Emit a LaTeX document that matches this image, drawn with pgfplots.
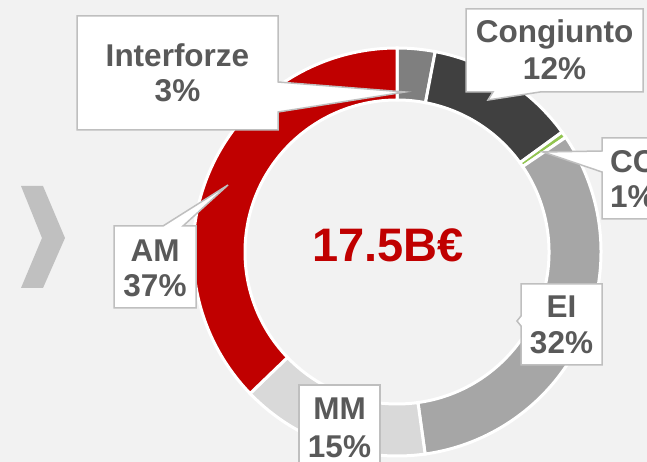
\documentclass[border=0pt]{standalone}
\usepackage{pgfplots}
\usepackage{pgfplotstable}
\pgfplotsset{compat=1.18}
\usepackage{fontspec}
\setmainfont{Liberation Sans}
\definecolor{bg}{HTML}{F2F2F2}
\definecolor{txt}{HTML}{595959}
\definecolor{boxline}{HTML}{BFBFBF}
\definecolor{chev}{HTML}{C0C0C0}
\definecolor{seg0}{HTML}{7F7F7F}
\definecolor{seg1}{HTML}{404040}
\definecolor{seg2}{HTML}{92C550}
\definecolor{seg3}{HTML}{A6A6A6}
\definecolor{seg4}{HTML}{D9D9D9}
\definecolor{seg5}{HTML}{C00000}
\definecolor{tot}{HTML}{C00000}

% share = drawn share of the ring, pct = printed label
\pgfplotstableread{
label share pct
Interforze 3 3
Congiunto 12 12
CC 0.5 1
EI 32.3 32
MM 15 15
AM 37.2 37
}\sharetable

\newcommand\lbl{\fontsize{31.5bp}{36bp}\selectfont\bfseries\color{txt}}

\begin{document}
\begin{tikzpicture}
\path[use as bounding box] (0,0) rectangle (647bp,462bp);
\clip (0,0) rectangle (647bp,462bp);
\begin{axis}[at={(0,0)},anchor=south west,scale only axis,
  width=647bp,height=462bp,xmin=0,xmax=647,ymin=-462,ymax=0,
  hide axis,clip=false]
\fill[bg] (axis cs:0,-462) rectangle (axis cs:647,0);
% chevron
\fill[chev] (axis cs:21,-186) -- (axis cs:43,-186) -- (axis cs:65,-238)
  -- (axis cs:43,-288) -- (axis cs:21,-288) -- (axis cs:42,-238) -- cycle;
% donut ring
\def\cum{0}
\pgfplotsforeachungrouped \i in {0,...,5}{%
  \pgfplotstablegetelem{\i}{share}\of\sharetable
  \let\segval\pgfplotsretval
  \pgfmathsetmacro\aone{90-3.6*\cum}%
  \pgfmathsetmacro\cum{\cum+\segval}%
  \pgfmathsetmacro\atwo{90-3.6*\cum}%
  \pgfmathsetmacro\xa{397+204*cos(\aone)}%
  \pgfmathsetmacro\ya{-252+204*sin(\aone)}%
  \pgfmathsetmacro\xb{397+152*cos(\atwo)}%
  \pgfmathsetmacro\yb{-252+152*sin(\atwo)}%
  \edef\temp{\noexpand\filldraw[fill=seg\i,draw=white,line width=3bp]
    (axis cs:\xa,\ya) arc[start angle=\aone,end angle=\atwo,radius=204bp]
    -- (axis cs:\xb,\yb) arc[start angle=\atwo,end angle=\aone,radius=152bp] -- cycle;}%
  \temp
}
% callouts
\filldraw[fill=white,draw=boxline,line width=1.5bp]
  (axis cs:77,-16) -- (axis cs:278,-16) -- (axis cs:278,-82) -- (axis cs:405,-92)
  -- (axis cs:278,-112) -- (axis cs:278,-130) -- (axis cs:77,-130) -- cycle;
\filldraw[fill=white,draw=boxline,line width=1.5bp]
  (axis cs:466,-9) -- (axis cs:643,-9) -- (axis cs:643,-92) -- (axis cs:540,-92)
  -- (axis cs:488,-100) -- (axis cs:493,-92) -- (axis cs:466,-92) -- cycle;
\filldraw[fill=white,draw=boxline,line width=1.5bp]
  (axis cs:602,-138) -- (axis cs:670,-138) -- (axis cs:670,-219) -- (axis cs:602,-219)
  -- (axis cs:602,-172) -- (axis cs:543,-152) -- (axis cs:602,-151) -- cycle;
\filldraw[fill=white,draw=boxline,line width=1.5bp]
  (axis cs:521,-284) -- (axis cs:602,-284) -- (axis cs:602,-365) -- (axis cs:521,-365)
  -- (axis cs:521,-326) -- (axis cs:517,-321) -- (axis cs:521,-316) -- cycle;
\filldraw[fill=white,draw=boxline,line width=1.5bp]
  (axis cs:299,-385) -- (axis cs:380,-385) -- (axis cs:380,-475) -- (axis cs:299,-475) -- cycle;
\filldraw[fill=white,draw=boxline,line width=1.5bp]
  (axis cs:114,-226) -- (axis cs:163,-226) -- (axis cs:228,-185) -- (axis cs:183,-226)
  -- (axis cs:196,-226) -- (axis cs:196,-308) -- (axis cs:114,-308) -- cycle;
% label texts
\node[anchor=base,inner sep=0pt,font=\lbl] at (axis cs:177.5,-67) {Interforze};
\node[anchor=base,inner sep=0pt,font=\lbl] at (axis cs:177.5,-102) {3\%};
\node[anchor=base,inner sep=0pt,font=\lbl] at (axis cs:554.5,-43) {Congiunto};
\node[anchor=base,inner sep=0pt,font=\lbl] at (axis cs:554.5,-80) {12\%};
\node[anchor=base west,inner sep=0pt,font=\lbl] at (axis cs:610,-173) {CC};
\node[anchor=base west,inner sep=0pt,font=\lbl] at (axis cs:610,-208) {1\%};
\node[anchor=base,inner sep=0pt,font=\lbl] at (axis cs:561.5,-318) {EI};
\node[anchor=base,inner sep=0pt,font=\lbl] at (axis cs:561.5,-354) {32\%};
\node[anchor=base,inner sep=0pt,font=\lbl] at (axis cs:339.5,-420) {MM};
\node[anchor=base,inner sep=0pt,font=\lbl] at (axis cs:339.5,-457) {15\%};
\node[anchor=base,inner sep=0pt,font=\lbl] at (axis cs:155,-262) {AM};
\node[anchor=base,inner sep=0pt,font=\lbl] at (axis cs:155,-297) {37\%};
% total
\node[anchor=base,inner sep=0pt,font=\fontsize{47bp}{50bp}\selectfont\bfseries\color{tot}]
  at (axis cs:388,-262) {17.5B€};
\end{axis}
\end{tikzpicture}
\end{document}
